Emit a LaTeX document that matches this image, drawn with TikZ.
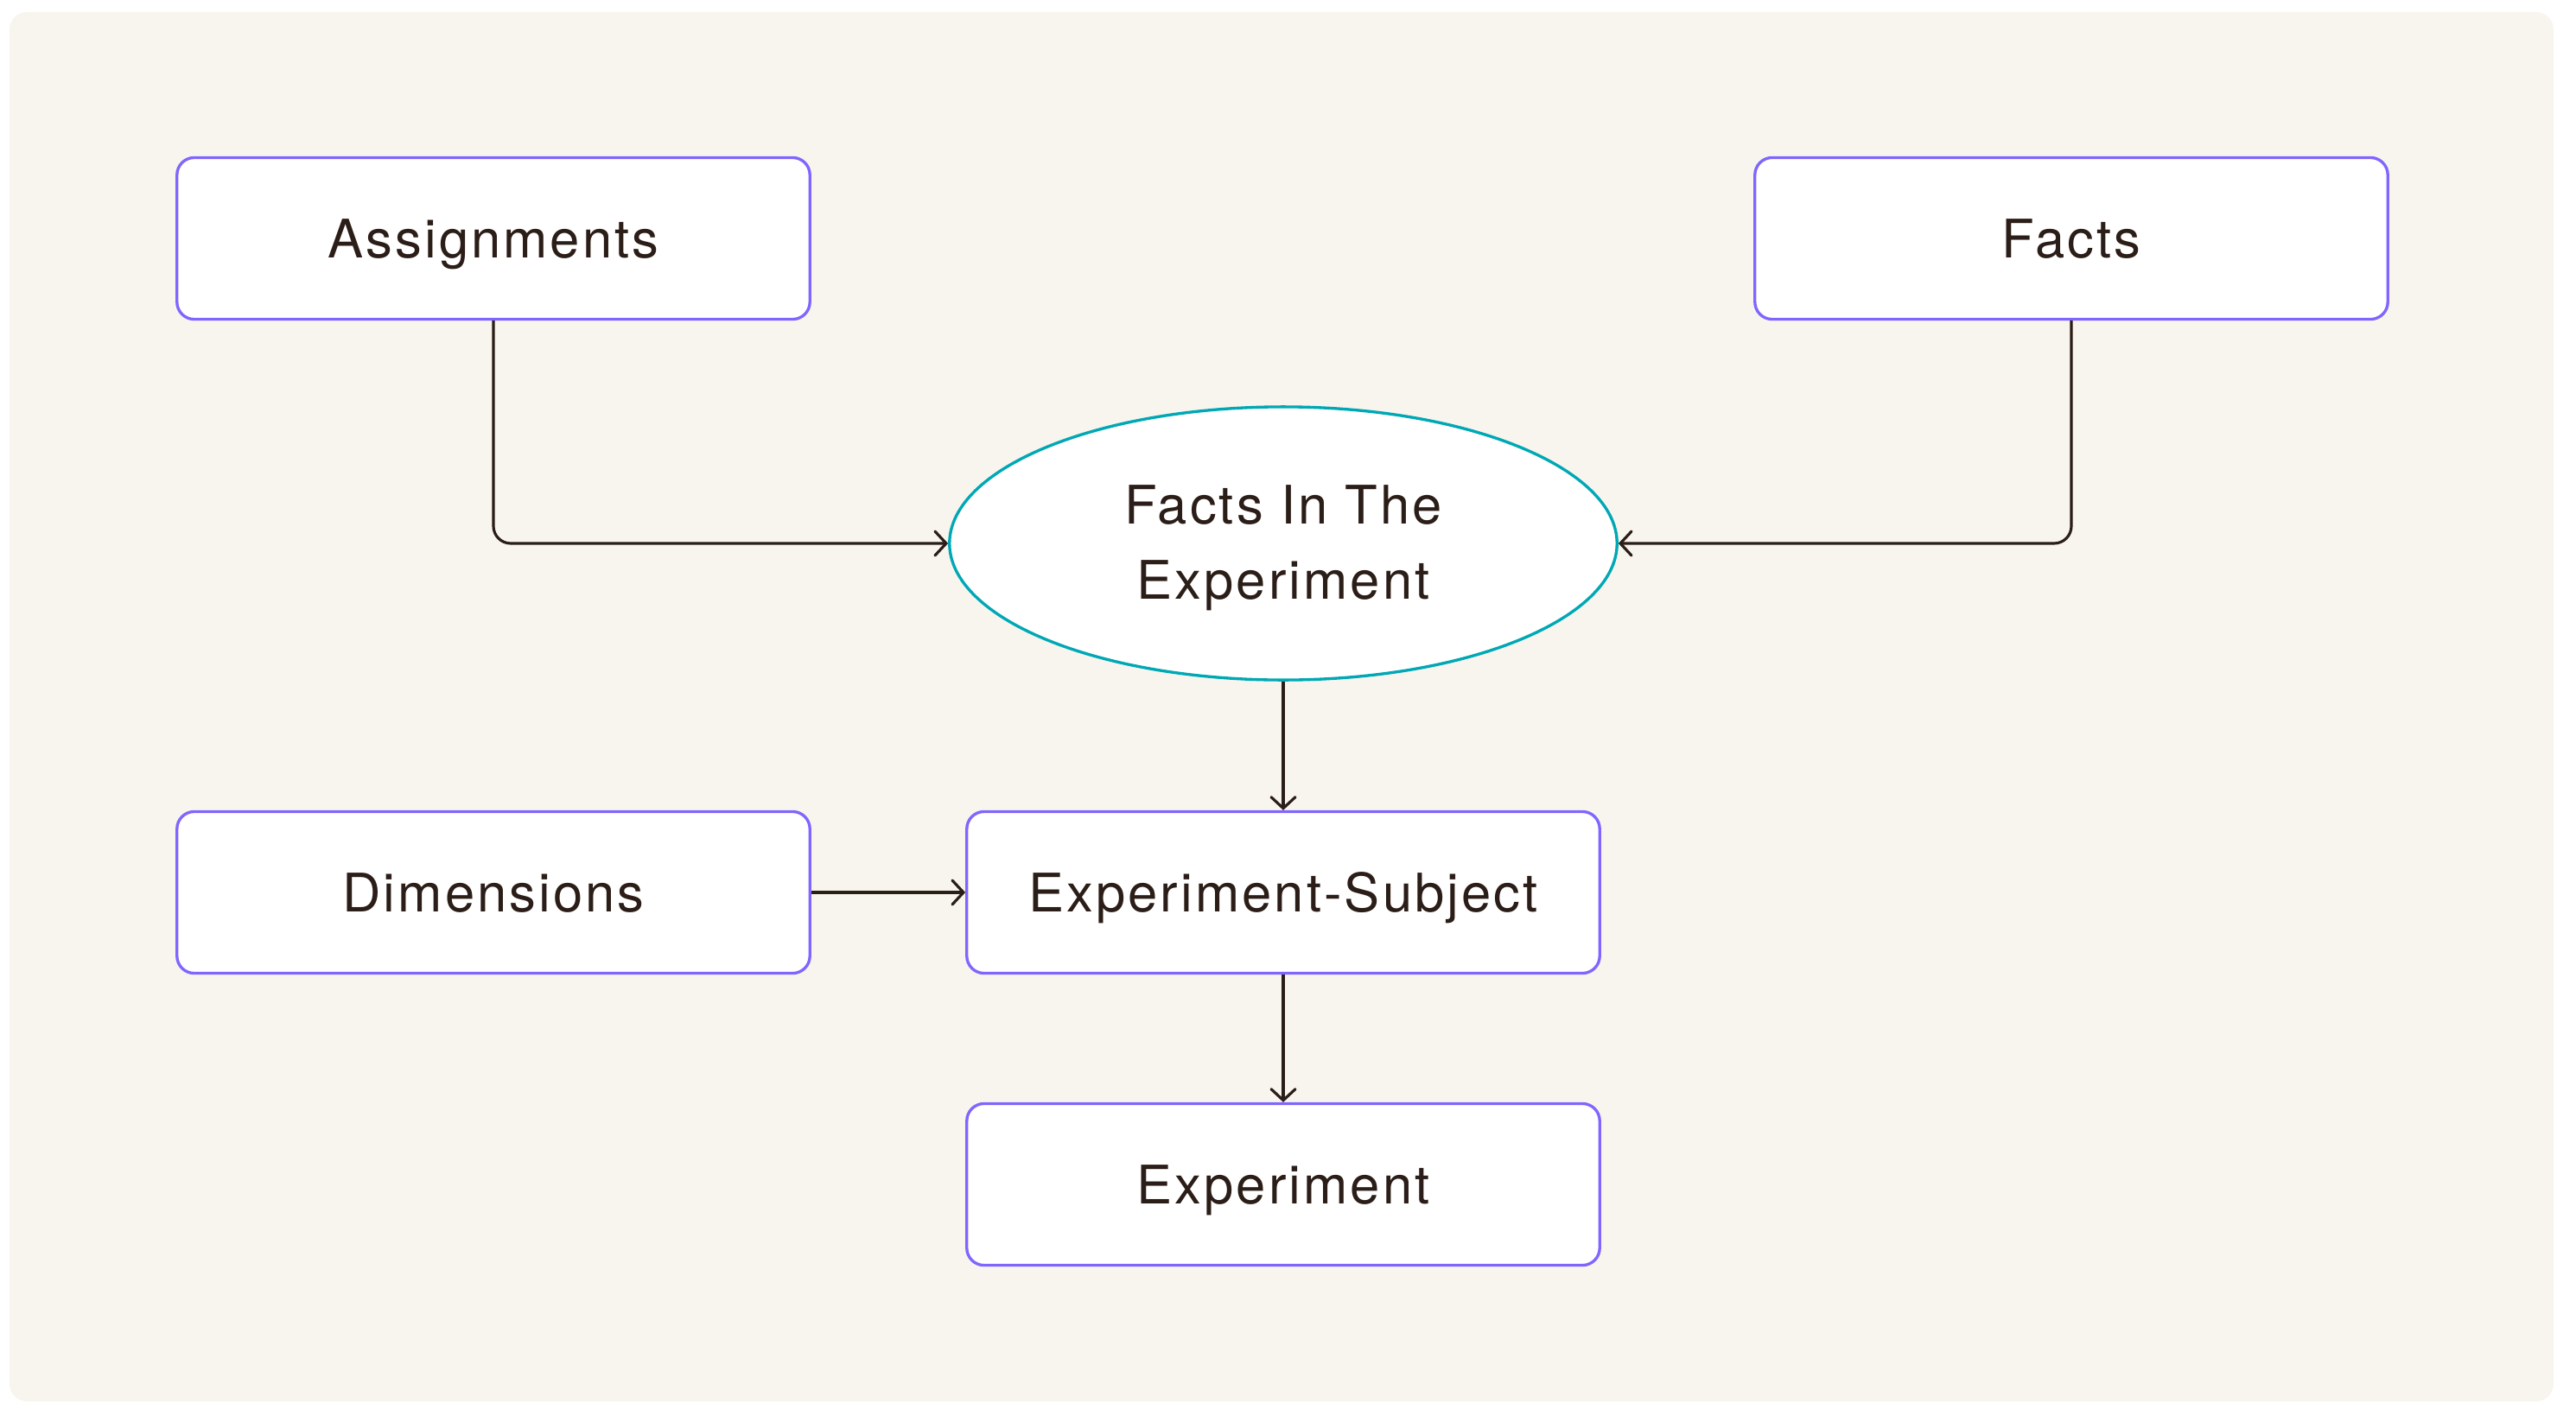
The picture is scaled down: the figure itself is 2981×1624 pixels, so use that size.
\documentclass[tikz,border=0pt]{standalone}
\usepackage{fontspec}
\setmainfont[LetterSpace=5]{TeX Gyre Heros}
\usetikzlibrary{shapes.geometric,arrows.meta}
\definecolor{bgcream}{HTML}{F8F5EE}
\definecolor{boxpurple}{HTML}{8066FF}
\definecolor{ovalteal}{HTML}{00A8B5}
\definecolor{inkbrown}{HTML}{2B1D17}
\tikzstyle{box} = [draw=boxpurple,line width=0.95pt,fill=white,rounded corners=0.2cm,minimum width=7.32cm,minimum height=1.87cm,text height=12.6pt,text depth=0pt,text=inkbrown,font=\fontsize{17.5}{24.5}\selectfont]
\tikzstyle{oval} = [ellipse,draw=ovalteal,line width=0.95pt,fill=white,minimum width=7.72cm,minimum height=3.16cm,inner sep=0pt,text=inkbrown,font=\fontsize{17.5}{24.5}\selectfont]
\tikzstyle{arrow} = [line width=0.9pt,draw=inkbrown,rounded corners=0.2cm,-{Straight Barb[length=0.13cm,width=0.28cm,line cap=round]}]

\begin{document}
\begin{tikzpicture}[x=0.01cm,y=-0.01cm]

\useasboundingbox (0,0) rectangle (2981,1624);
\fill[bgcream,rounded corners=0.2cm] (11,14) rectangle (2955,1622);

\node[box] (assign) at (571,276) {Assignments};
\node[box] (facts) at (2397,276) {Facts};
\node[oval] (factsexp) at (1485,629) {\raisebox{-5.4pt}[0pt][0pt]{\begin{tabular}{@{}c@{}}Facts In The\\Experiment\end{tabular}}};
\node[box] (dims) at (571,1033) {Dimensions};
\node[box] (expsubj) at (1485,1033) {Experiment-Subject};
\node[box] (exp) at (1485,1371) {Experiment};

\draw[arrow] (assign.south) |- (factsexp.west);
\draw[arrow] (facts.south) |- (factsexp.east);
\draw[arrow] (factsexp.south) -- (expsubj.north);
\draw[arrow] (dims.east) -- (expsubj.west);
\draw[arrow] (expsubj.south) -- (exp.north);
\end{tikzpicture}
\end{document}
